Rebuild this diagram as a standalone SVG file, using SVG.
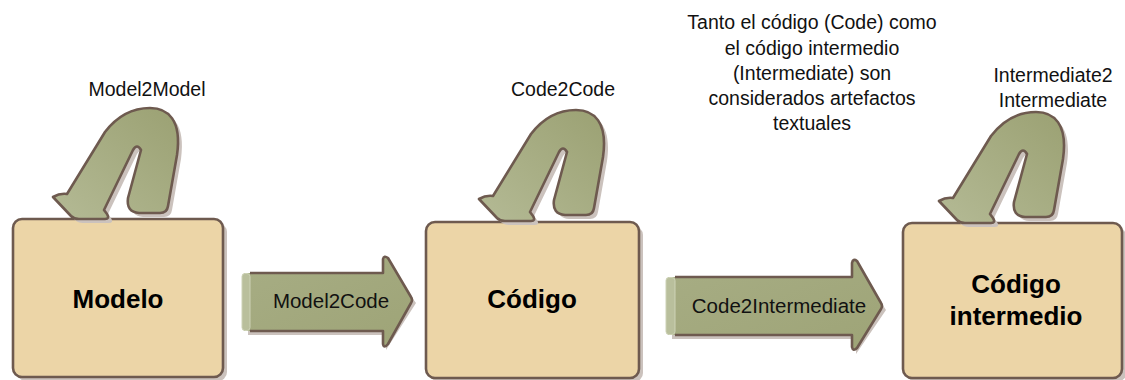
<svg xmlns="http://www.w3.org/2000/svg" width="1125" height="380" viewBox="0 0 1125 380">
  <defs>
    <linearGradient id="gArrow" x1="0" y1="1" x2="1" y2="0">
      <stop offset="0" stop-color="#b4ba95"/>
      <stop offset="1" stop-color="#9ba173"/>
    </linearGradient>
    <linearGradient id="gArrowH" x1="0" y1="0" x2="1" y2="1">
      <stop offset="0" stop-color="#a7ad84"/>
      <stop offset="1" stop-color="#9ea477"/>
    </linearGradient>
    <path id="uturn" d="M 53,197 L 71,216 Q 74,219 79,219 L 105,219 Q 110,219 107,214 L 104,210 L 133,150 Q 137,143 141,150 L 128,198 Q 126,212 139,213 L 160,213 Q 167,213 168,206 L 177,155 C 182,120 168,108 150,108 C 133,108 118,115 105,132 L 67,194 Q 60,193 53,197 Z"/>
  </defs>
  <style>
    .box { fill: #ecd5a7; stroke: #6e5a4f; stroke-width: 2.6; }
    .shadow { fill: #cbc2bd; stroke: none; }
    .arrow { fill: url(#gArrow); stroke: #6e5a4f; stroke-width: 2.6; stroke-linejoin: round; }
    .hfill { fill: url(#gArrowH); stroke: none; }
    .hline { fill: none; stroke: #6e5a4f; stroke-width: 2.6; stroke-linejoin: round; }
    .cap { fill: #b9bf9c; stroke: #cdd2b6; stroke-width: 1; }
    .lbl { font-family: "Liberation Sans", Arial, sans-serif; font-size: 19.5px; fill: #111; text-anchor: middle; }
    .alb { font-family: "Liberation Sans", Arial, sans-serif; font-size: 20.5px; fill: #111; text-anchor: middle; }
    .node { font-family: "Liberation Sans", Arial, sans-serif; font-size: 26px; font-weight: bold; fill: #000; text-anchor: middle; }
  </style>
  <rect width="1125" height="380" fill="#ffffff"/>

  <g id="node-modelo">
    <rect class="shadow" x="17" y="223" width="210" height="158" rx="9"/>
    <rect class="box" x="13" y="219" width="210" height="158" rx="9"/>
    <text class="node" x="118" y="308">Modelo</text>
  </g>

  <g id="node-codigo">
    <rect class="shadow" x="430" y="226" width="213" height="156" rx="9"/>
    <rect class="box" x="426" y="222" width="213" height="156" rx="9"/>
    <text class="node" x="532" y="308">Código</text>
  </g>

  <g id="node-intermedio">
    <rect class="shadow" x="907" y="227" width="219" height="155" rx="9"/>
    <rect class="box" x="903" y="223" width="219" height="155" rx="9"/>
    <text class="node" x="1016" y="293">Código</text>
    <text class="node" x="1016" y="325">intermedio</text>
  </g>

  <g id="connectors">
    <g id="loop-model2model">
      <use href="#uturn" class="shadow" transform="translate(4,4)"/>
      <use href="#uturn" class="arrow"/>
      <text class="lbl" x="147" y="96">Model2Model</text>
    </g>
    <g id="loop-code2code">
      <use href="#uturn" class="shadow" transform="translate(430,6)"/>
      <use href="#uturn" class="arrow" transform="translate(426,2)"/>
      <text class="lbl" x="563" y="96">Code2Code</text>
    </g>
    <g id="loop-intermediate2intermediate">
      <use href="#uturn" class="shadow" transform="translate(890,8)"/>
      <use href="#uturn" class="arrow" transform="translate(886,4)"/>
      <text class="lbl" x="1053" y="81.5">Intermediate2</text>
      <text class="lbl" x="1053" y="107">Intermediate</text>
    </g>

    <g id="edge-model2code">
      <path class="shadow" d="M 248,276 L 386,276 L 386,262 L 416,303 L 386,350 L 386,335 L 248,335 Z"/>
      <path class="hfill" d="M 244,273 L 383,273 L 383,259 Q 384,255 388,258 L 411,297 Q 413,300 411,303 L 388,344 Q 384,349 383,344 L 383,331 L 244,331 Z"/>
      <path class="hline" d="M 250,273 L 383,273 L 383,259 Q 384,255 388,258 L 411,297 Q 413,300 411,303 L 388,344 Q 384,349 383,344 L 383,331 L 250,331"/>
      <rect class="cap" x="242" y="273.5" width="8" height="57" rx="3"/>
      <text class="alb" x="331" y="308">Model2Code</text>
    </g>

    <g id="edge-code2intermediate">
      <path class="shadow" d="M 672,280 L 856,280 L 856,264 L 886,310 L 856,354 L 856,339 L 672,339 Z"/>
      <path class="hfill" d="M 668,277 L 852,277 L 852,263 Q 853,258 857,261 L 881,303 Q 883,306 881,309 L 857,348 Q 853,352 852,347 L 852,335 L 668,335 Z"/>
      <path class="hline" d="M 675,277 L 852,277 L 852,263 Q 853,258 857,261 L 881,303 Q 883,306 881,309 L 857,348 Q 853,352 852,347 L 852,335 L 675,335"/>
      <rect class="cap" x="666" y="277.5" width="9" height="57" rx="3"/>
      <text class="alb" x="779" y="313">Code2Intermediate</text>
    </g>
  </g>

  <g id="note">
    <text class="lbl" x="812" y="29">Tanto el código (Code) como</text>
    <text class="lbl" x="812" y="54.5">el código intermedio</text>
    <text class="lbl" x="812" y="80">(Intermediate) son</text>
    <text class="lbl" x="812" y="105">considerados artefactos</text>
    <text class="lbl" x="812" y="130">textuales</text>
  </g>
</svg>
